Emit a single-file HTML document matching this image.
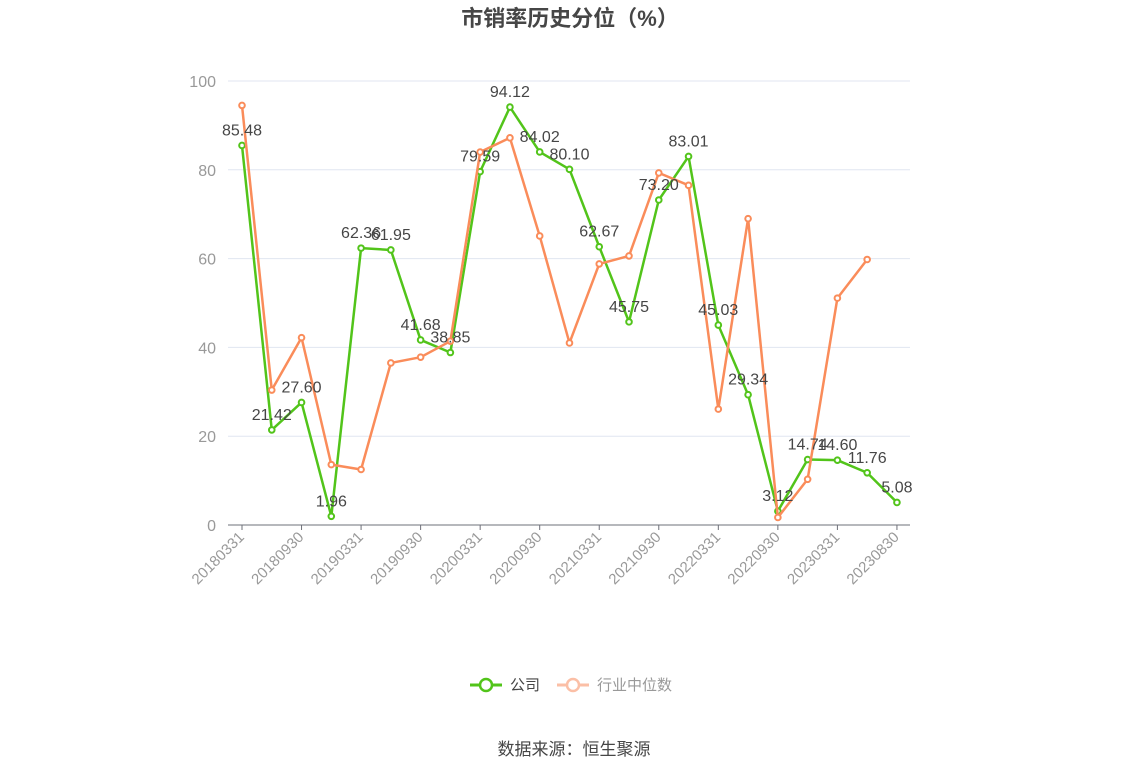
<!DOCTYPE html>
<html><head><meta charset="utf-8"><style>
html,body{margin:0;padding:0;background:#fff;}
svg{display:block;font-family:"Liberation Sans","Noto Sans CJK SC",sans-serif;}
</style></head><body>
<svg id="c" width="1148" height="776" xmlns="http://www.w3.org/2000/svg">
<text x="570" y="26" text-anchor="middle" font-size="22" font-weight="bold" fill="#464646">市销率历史分位（%）</text>
<g id="grid"></g>
<g id="ser"></g>
<g id="lab"></g>
<g>
<line x1="470" y1="685" x2="502" y2="685" stroke="#52c41a" stroke-width="3"/>
<circle cx="486" cy="685" r="6" fill="#fff" stroke="#52c41a" stroke-width="2.5"/>
<text x="510" y="690" font-size="15" fill="#464646">公司</text>
<line x1="557" y1="685" x2="589" y2="685" stroke="#fbbfa6" stroke-width="3"/>
<circle cx="573" cy="685" r="6" fill="#fff" stroke="#fbbfa6" stroke-width="2.5"/>
<text x="597" y="690" font-size="15" fill="#999">行业中位数</text>
</g>
<text x="574" y="755" text-anchor="middle" font-size="17" fill="#464646">数据来源：恒生聚源</text>
</svg>
<script>
var NS="http://www.w3.org/2000/svg";
function el(p,t,a,txt){var e=document.createElementNS(NS,t);for(var k in a)e.setAttribute(k,a[k]);if(txt!=null)e.textContent=txt;document.getElementById(p).appendChild(e);return e;}
function X(i){return 242+i*29.77;}
function Y(v){return 525-v*4.44;}
for(var v=0;v<=100;v+=20){
 if(v>0)el("grid","line",{x1:228,x2:910,y1:Y(v),y2:Y(v),stroke:"#e0e6f1","stroke-width":1});
 el("grid","text",{x:216,y:Y(v)+6,"text-anchor":"end","font-size":16,fill:"#999"},String(v));
}
el("grid","line",{x1:228,x2:910,y1:525,y2:525,stroke:"#6e7079","stroke-width":1});
var xl=["20180331","20180930","20190331","20190930","20200331","20200930","20210331","20210930","20220331","20220930","20230331","20230830"];
for(var j=0;j<12;j++){var x=X(j*2);
 el("grid","line",{x1:x,x2:x,y1:525,y2:530,stroke:"#6e7079"});
 el("grid","text",{transform:"translate("+(x+3)+",538) rotate(-45)","text-anchor":"end","font-size":15,fill:"#999"},xl[j]);
}
var g=[85.48,21.42,27.60,1.96,62.36,61.95,41.68,38.85,79.59,94.12,84.02,80.10,62.67,45.75,73.20,83.01,45.03,29.34,3.12,14.74,14.60,11.76,5.08];
var o=[94.5,30.4,42.2,13.6,12.5,36.5,37.8,41.4,84.0,87.2,65.1,41.0,58.8,60.6,79.3,76.5,26.1,69.0,1.7,10.3,51.1,59.8];
function line(d,c){var p=d.map(function(v,i){return X(i)+","+Y(v)}).join(" ");
 el("ser","polyline",{points:p,fill:"none",stroke:c,"stroke-width":2.5,"stroke-linejoin":"round"});
 d.forEach(function(v,i){el("ser","circle",{cx:X(i),cy:Y(v),r:2.8,fill:"#fff",stroke:c,"stroke-width":2});});}
line(g,"#52c41a");line(o,"#fa8c5a");
g.forEach(function(v,i){el("lab","text",{x:X(i),y:Y(v)-10,"text-anchor":"middle","font-size":16,fill:"#464646"},v.toFixed(2));});
</script>
</body></html>
